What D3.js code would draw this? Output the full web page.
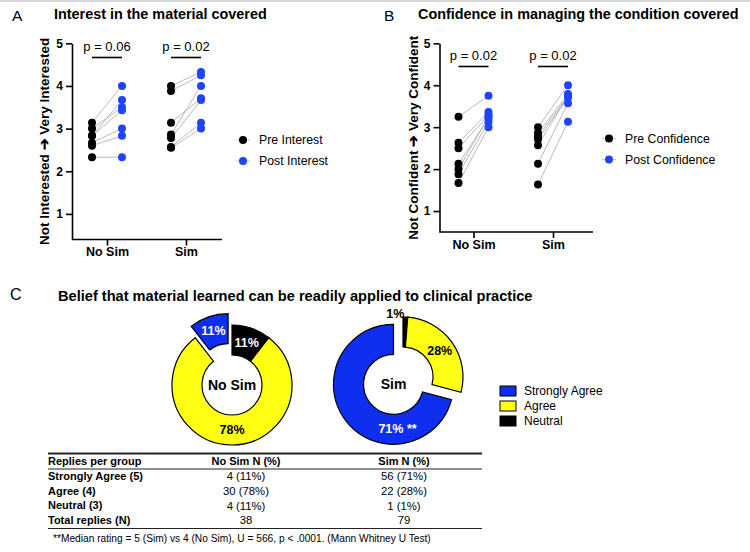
<!DOCTYPE html>
<html>
<head>
<meta charset="utf-8">
<script src="https://cdn.jsdelivr.net/npm/d3@7"></script>
<style>
  body { margin: 0; background: #fff; }
  svg { font-family: "Liberation Sans", Arial, sans-serif; }
</style>
</head>
<body>
<div id="chart"></div>
<script>
// groups and levels
var groups = ["No Sim", "Sim"];
var yTicks = [1, 2, 3, 4, 5];

// panel A: interest, pre / post pairs (index i pre -> index i post)
var interestNoSimPre = [3.14, 3.0, 2.83, 2.83, 2.67, 2.6, 2.33];
var interestNoSimPost = [4.0, 3.5, 3.67, 3.43, 3.0, 2.83, 2.33];
var interestSimPre = [4.0, 3.88, 3.14, 2.86, 2.78, 2.57, 2.55];
var interestSimPost = [4.33, 4.25, 3.71, 4.0, 3.67, 3.14, 3.0];
var interestP = ["p = 0.06", "p = 0.02"];

// panel B: confidence, pre / post pairs
var confNoSimPre = [3.25, 2.63, 2.5, 2.13, 2.0, 1.88, 1.67];
var confNoSimPost = [3.75, 3.36, 3.29, 3.21, 3.25, 3.13, 3.0];
var confSimPre = [3.0, 2.86, 2.78, 2.71, 2.57, 2.13, 1.63];
var confSimPost = [4.0, 3.79, 3.75, 3.71, 3.75, 3.57, 3.13];
var confP = ["p = 0.02", "p = 0.02"];

// panel C: replies per level
var levels = ["Strongly Agree", "Agree", "Neutral"];
var noSimCounts = [4, 30, 4];
var simCounts = [56, 22, 1];
var noSimPct = ["11%", "78%", "11%"];
var simPct = ["71% **", "28%", "1%"];

// table
var tableHeader = ["Replies per group", "No Sim N (%)", "Sim N (%)"];
var tableRows = ["Strongly Agree (5)", "Agree (4)", "Neutral (3)", "Total replies (N)"];
var noSimCol = ["4 (11%)", "30 (78%)", "4 (11%)", "38"];
var simCol = ["56 (71%)", "22 (28%)", "1 (1%)", "79"];
var footnote = "**Median rating = 5 (Sim) vs 4 (No Sim), U = 566, p < .0001. (Mann Whitney U Test)";

var BLUE = "#0f2ff0", YELLOW = "#ffff14";
var dotBlue = "#1f44ff";

var svg = d3.select("#chart").append("svg")
  .attr("width", 750).attr("height", 552);

svg.append("line").attr("x1", 0).attr("x2", 750).attr("y1", 1).attr("y2", 1)
  .attr("stroke", "#d8d8d8").attr("stroke-width", 2);

// paired dot plot
function pairedPanel(opt) {
  var g = svg.append("g");
  var y = d3.scaleLinear().domain(opt.yDomain).range([opt.bottom, opt.top]);
  var x = d3.scalePoint().domain(groups).range(opt.xTicks);

  // y axis
  var ya = g.append("g").attr("transform", "translate(" + opt.left + ",0)")
    .call(d3.axisLeft(y).tickValues(yTicks).tickSize(6).tickSizeOuter(0).tickFormat(d3.format("d")));
  ya.select(".domain").attr("stroke-width", 1.6);
  ya.selectAll(".tick line").attr("stroke-width", 1.6);
  ya.selectAll(".tick text").attr("font-size", 12).attr("font-weight", "bold")
    .attr("font-family", "Liberation Sans, Arial, sans-serif").attr("fill", "#000");

  // x axis
  var xa = g.append("g").attr("transform", "translate(0," + opt.bottom + ")")
    .call(d3.axisBottom(x).tickSize(6).tickSizeOuter(0));
  xa.select(".domain").remove();
  xa.append("line").attr("x1", opt.left).attr("x2", opt.right)
    .attr("stroke", "#000").attr("stroke-width", 1.6);
  xa.selectAll(".tick line").attr("stroke-width", 1.6);
  xa.selectAll(".tick text").attr("font-size", 12.5).attr("font-weight", "bold")
    .attr("font-family", "Liberation Sans, Arial, sans-serif").attr("fill", "#000").attr("dy", "0.6em");

  // y label
  g.append("text")
    .attr("transform", "translate(" + opt.yLabelX + "," + ((opt.top + opt.bottom) / 2) + ") rotate(-90)")
    .attr("text-anchor", "middle").attr("dy", "0.35em")
    .attr("font-size", 13.5).attr("font-weight", "bold").text(opt.yLabel);

  var off = 15;
  opt.data.forEach(function (grp, gi) {
    var cx = x(groups[gi]);
    grp.pre.forEach(function (v, i) {
      g.append("line")
        .attr("x1", cx - off).attr("y1", y(v))
        .attr("x2", cx + off).attr("y2", y(grp.post[i]))
        .attr("stroke", "#a8a8a8").attr("stroke-width", 0.8);
    });
    g.selectAll(null).data(grp.pre).enter().append("circle")
      .attr("cx", cx - off).attr("cy", function (d) { return y(d); })
      .attr("r", 4).attr("fill", "#000");
    g.selectAll(null).data(grp.post).enter().append("circle")
      .attr("cx", cx + off).attr("cy", function (d) { return y(d); })
      .attr("r", 4).attr("fill", dotBlue);

    // significance bar
    g.append("line").attr("x1", cx - off).attr("x2", cx + off)
      .attr("y1", opt.barY).attr("y2", opt.barY)
      .attr("stroke", "#000").attr("stroke-width", 1.6);
    g.append("text").attr("x", cx).attr("y", opt.barY - 7)
      .attr("text-anchor", "middle").attr("font-size", 13).text(opt.p[gi]);
  });

  // legend
  opt.legend.forEach(function (t, i) {
    var ly = opt.legendY + i * 21;
    g.append("line").attr("x1", opt.legendX - 7).attr("x2", opt.legendX + 7)
      .attr("y1", ly).attr("y2", ly).attr("stroke", "#bbb").attr("stroke-width", 0.8);
    g.append("circle").attr("cx", opt.legendX).attr("cy", ly).attr("r", 4)
      .attr("fill", i === 0 ? "#000" : dotBlue);
    g.append("text").attr("x", opt.legendX + 16).attr("y", ly).attr("dy", "0.35em")
      .attr("font-size", 12.3).text(t);
  });

  // panel letter + title
  svg.append("text").attr("x", opt.letterX).attr("y", 21).attr("font-size", 15.5).text(opt.letter);
  svg.append("text").attr("x", opt.titleX).attr("y", 19).attr("font-size", opt.titleSize)
    .attr("font-weight", "bold").text(opt.title);
}

pairedPanel({
  letter: "A", letterX: 12, title: "Interest in the material covered", titleX: 54, titleSize: 14.4,
  yDomain: [0.4, 5], top: 43.3, bottom: 239.5, left: 72, right: 222,
  xTicks: [107, 186], yLabelX: 44, yLabel: "Not Interested \u2794 Very Interested",
  barY: 57.5, p: interestP,
  data: [{ pre: interestNoSimPre, post: interestNoSimPost }, { pre: interestSimPre, post: interestSimPost }],
  legend: ["Pre Interest", "Post Interest"], legendX: 243, legendY: 140
});

pairedPanel({
  letter: "B", letterX: 384, title: "Confidence in managing the condition covered", titleX: 418, titleSize: 14.4,
  yDomain: [0.5, 5], top: 43.3, bottom: 232, left: 439.5, right: 593,
  xTicks: [473.5, 553], yLabelX: 413, yLabel: "Not Confident \u2794 Very Confident",
  barY: 66.5, p: confP,
  data: [{ pre: confNoSimPre, post: confNoSimPost }, { pre: confSimPre, post: confSimPost }],
  legend: ["Pre Confidence", "Post Confidence"], legendX: 609, legendY: 138.5
});

// panel C
svg.append("text").attr("x", 10).attr("y", 300).attr("font-size", 16).text("C");
svg.append("text").attr("x", 58).attr("y", 301).attr("font-size", 14.6)
  .attr("font-weight", "bold")
  .text("Belief that material learned can be readily applied to clinical practice");

var color = d3.scaleOrdinal().domain(levels).range([BLUE, YELLOW, "#000"]);
var rOut = 60, rIn = 30, explode = 12;
var arc = d3.arc().innerRadius(rIn).outerRadius(rOut);
var labelArc = d3.arc().innerRadius(45).outerRadius(45);
// clockwise from 12 o'clock: Neutral, Agree, Strongly Agree
var pie = d3.pie().sort(null).value(function (d) { return d.n; });

function donut(cx, cy, counts, pcts, name, opts) {
  var rows = levels.map(function (l, i) { return { level: l, n: counts[i], pct: pcts[i] }; }).reverse();
  var arcs = pie(rows);
  var g = svg.append("g").attr("transform", "translate(" + cx + "," + cy + ")");
  var blueShift = [0, 0];
  arcs.forEach(function (a) {
    var dx = 0, dy = 0;
    if (a.data.level === "Strongly Agree") {
      var mid = (a.startAngle + a.endAngle) / 2;
      dx = Math.sin(mid) * explode; dy = -Math.cos(mid) * explode;
      blueShift = [dx, dy];
    }
    var sg = g.append("g").attr("transform", "translate(" + dx + "," + dy + ")");
    sg.append("path").attr("d", arc(a)).attr("fill", color(a.data.level))
      .attr("stroke", "#000").attr("stroke-width", 1.2);
    var pos;
    var la = opts.labelAngle[a.data.level];
    if (la !== undefined) {
      var rr = opts.labelR[a.data.level] || 45;
      pos = [Math.sin(la) * rr, -Math.cos(la) * rr];
    } else {
      pos = labelArc.centroid(a);
    }
    sg.append("text").attr("x", pos[0]).attr("y", pos[1]).attr("dy", "0.35em")
      .attr("text-anchor", "middle").attr("font-size", 12.5).attr("font-weight", "bold")
      .attr("fill", (a.data.level === "Agree" || opts.labelR[a.data.level] > rOut) ? "#000" : "#fff")
      .text(a.data.pct);
  });
  var c = opts.centerOnBlue ? blueShift : [0, 0];
  g.append("text").attr("x", c[0]).attr("y", c[1]).attr("dy", "0.35em")
    .attr("text-anchor", "middle").attr("font-size", 14).attr("font-weight", "bold").text(name);
}

donut(232, 385, noSimCounts, noSimPct, "No Sim", { labelAngle: {}, labelR: {} });
donut(403, 377, simCounts, simPct, "Sim", {
  labelAngle: { "Strongly Agree": 3.05, "Neutral": -0.12 },
  labelR: { "Strongly Agree": 44, "Neutral": 64 },
  centerOnBlue: true
});

// legend C
var lg = svg.append("g").attr("transform", "translate(500,391)");
levels.forEach(function (l, i) {
  lg.append("rect").attr("x", 0).attr("y", i * 15 - 5).attr("width", 16).attr("height", 10)
    .attr("fill", color(l)).attr("stroke", "#000").attr("stroke-width", 1);
  lg.append("text").attr("x", 24).attr("y", i * 15).attr("dy", "0.35em")
    .attr("font-size", 12).text(l);
});

// table
var tx0 = 48, tx1 = 482;
var colX = [48, 246, 404];
var tb = svg.append("g");
tb.append("line").attr("x1", tx0).attr("x2", tx1).attr("y1", 453.5).attr("y2", 453.5)
  .attr("stroke", "#222").attr("stroke-width", 1.8);
tb.append("line").attr("x1", tx0).attr("x2", tx1).attr("y1", 469).attr("y2", 469)
  .attr("stroke", "#222").attr("stroke-width", 1.1);
tb.append("line").attr("x1", tx0).attr("x2", tx1).attr("y1", 528.5).attr("y2", 528.5)
  .attr("stroke", "#222").attr("stroke-width", 1.2);
tableHeader.forEach(function (h, i) {
  tb.append("text").attr("x", colX[i]).attr("y", 461.5).attr("dy", "0.35em")
    .attr("text-anchor", i === 0 ? "start" : "middle")
    .attr("font-size", 11).attr("font-weight", "bold").text(h);
});
tableRows.forEach(function (r, i) {
  var ry = 476 + i * 14.8;
  tb.append("text").attr("x", colX[0]).attr("y", ry).attr("dy", "0.35em")
    .attr("font-size", 11).attr("font-weight", "bold").text(r);
  tb.append("text").attr("x", colX[1]).attr("y", ry).attr("dy", "0.35em")
    .attr("text-anchor", "middle").attr("font-size", 11.3).text(noSimCol[i]);
  tb.append("text").attr("x", colX[2]).attr("y", ry).attr("dy", "0.35em")
    .attr("text-anchor", "middle").attr("font-size", 11.3).text(simCol[i]);
});
tb.append("text").attr("x", 53).attr("y", 538).attr("dy", "0.35em")
  .attr("font-size", 10.2).text(footnote);
</script>
</body>
</html>
